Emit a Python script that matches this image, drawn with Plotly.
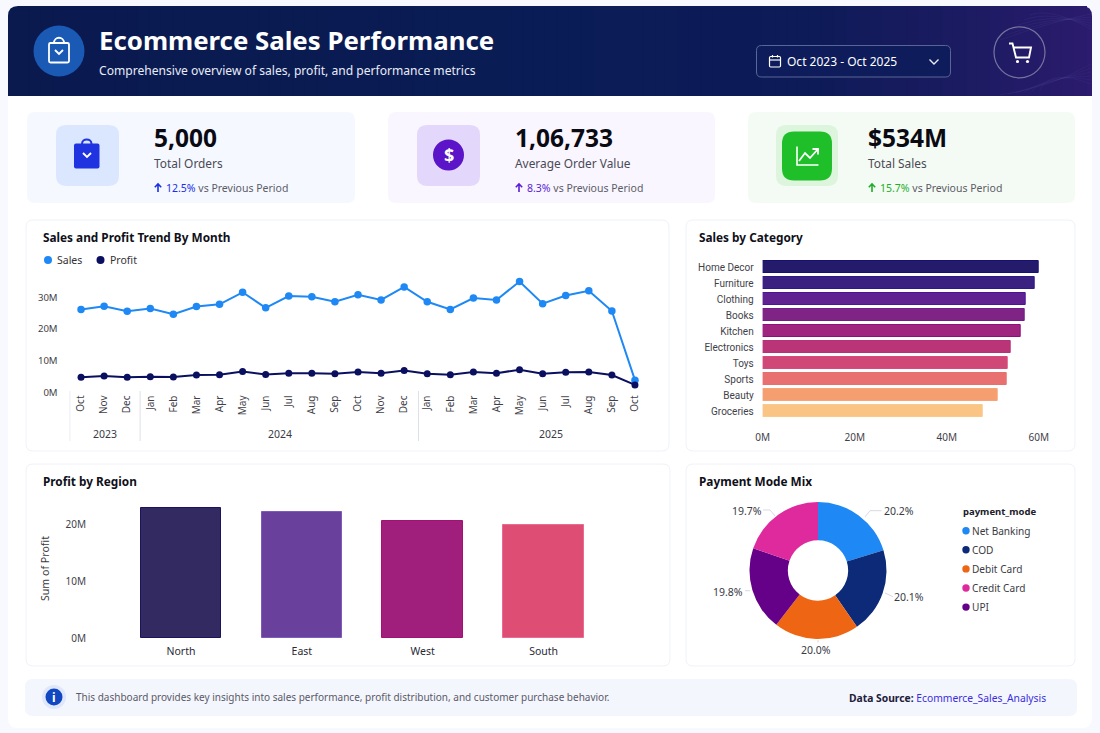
import re
import plotly.graph_objects as go

# ---- chart data -------------------------------------------------------
months = ["Oct", "Nov", "Dec", "Jan", "Feb", "Mar", "Apr", "May", "Jun", "Jul", "Aug", "Sep",
          "Oct", "Nov", "Dec", "Jan", "Feb", "Mar", "Apr", "May", "Jun", "Jul", "Aug", "Sep", "Oct"]
sales_m = [26.2, 27.2, 25.6, 26.5, 24.7, 27.1, 27.8, 31.6, 26.7, 30.4, 30.2, 28.6, 30.8,
           29.2, 33.3, 28.6, 26.2, 29.8, 29.2, 35.0, 28.0, 30.6, 32.1, 25.7, 3.9]
profit_m = [4.8, 5.2, 4.8, 5.0, 4.9, 5.5, 5.6, 6.6, 5.7, 6.1, 6.1, 5.9, 6.5,
            6.1, 6.9, 5.9, 5.6, 6.5, 6.1, 7.2, 5.9, 6.4, 6.5, 5.5, 2.4]
trend_ticks = [0, 10, 20, 30]
trend_tick_labels = ["0M", "10M", "20M", "30M"]
years = ["2023", "2024", "2025"]
year_dividers = [-0.49, 2.56, 14.62]

categories = ["Home Decor", "Furniture", "Clothing", "Books", "Kitchen",
              "Electronics", "Toys", "Sports", "Beauty", "Groceries"]
category_sales_m = [60.1, 59.2, 57.2, 57.0, 56.1, 53.9, 53.3, 53.0, 51.0, 47.8]
category_ticks = [0, 20, 40, 60]
category_tick_labels = ["0M", "20M", "40M", "60M"]
category_fill = ["#241c6b", "#3b2180", "#5f2290", "#7f2484", "#9e2480",
                 "#b93578", "#d04878", "#e87070", "#f59e70", "#fac484"]
category_edge = ["#15107a", "#2a1a8a", "#4a159a", "#721b8c", "#920c7c",
                 "#b82f7c", "#d84a7c", "#e8706c", "#f7a478", "#fbc98c"]

regions = ["North", "East", "West", "South"]
region_profit_m = [22.95, 22.15, 20.65, 19.9]
region_ticks = [0, 10, 20]
region_tick_labels = ["0M", "10M", "20M"]
region_fill = ["#332a62", "#69419c", "#a01f7c", "#de4d74"]
region_edge = ["#1a1460", "#7d5abc", "#a80f72", "#ea6a90"]

# clockwise from twelve o'clock
payment_modes = ["Net Banking", "COD", "Debit Card", "UPI", "Credit Card"]
payment_share = [20.2, 20.1, 20.0, 19.8, 19.7]
payment_fill = ["#1e88f5", "#0d2a78", "#ee6514", "#650088", "#df2a9e"]
legend_order = ["Net Banking", "COD", "Debit Card", "Credit Card", "UPI"]

kpis = [
    ("5,000", "Total Orders", "12.5%", "#1a2fe6"),
    ("1,06,733", "Average Order Value", "8.3%", "#5a1fd6"),
    ("$534M", "Total Sales", "15.7%", "#1fae2a"),
]

W, H = 1100, 733
FONT = "Noto Sans"
SALES_BLUE = "#1e88f5"
PROFIT_NAVY = "#0a0f60"


def px(x):
    return x / W


def py(y):
    return 1 - y / H


def to_paper(path):
    """Turn an 'M x y L x y ...' string in page pixels into paper fractions."""
    out, is_x = [], True
    for tok in path.split():
        if re.fullmatch(r"[A-Za-z]", tok):
            out.append(tok)
            is_x = True
        else:
            out.append(f"{px(float(tok)):.5f}" if is_x else f"{py(float(tok)):.5f}")
            is_x = not is_x
    return " ".join(out)


shapes = []
annotations = []


def path(d, fill=None, line=None, width=0, opacity=1):
    shapes.append(dict(type="path", path=to_paper(d), xref="paper", yref="paper", layer="below",
                       fillcolor=fill or "rgba(0,0,0,0)", opacity=opacity,
                       line=dict(color=line or "rgba(0,0,0,0)", width=width)))


def round_rect(x0, y0, x1, y1, r, fill=None, line=None, width=0, corners="tl tr br bl", opacity=1):
    tl = r if "tl" in corners else 0
    tr = r if "tr" in corners else 0
    br = r if "br" in corners else 0
    bl = r if "bl" in corners else 0
    d = (f"M {x0 + tl} {y0} L {x1 - tr} {y0} Q {x1} {y0} {x1} {y0 + tr} "
         f"L {x1} {y1 - br} Q {x1} {y1} {x1 - br} {y1} L {x0 + bl} {y1} "
         f"Q {x0} {y1} {x0} {y1 - bl} L {x0} {y0 + tl} Q {x0} {y0} {x0 + tl} {y0} Z")
    path(d, fill, line, width, opacity)


def circle(cx, cy, r, fill=None, line=None, width=0):
    shapes.append(dict(type="circle", xref="paper", yref="paper", layer="below",
                       x0=px(cx - r), x1=px(cx + r), y0=py(cy + r), y1=py(cy - r),
                       fillcolor=fill or "rgba(0,0,0,0)",
                       line=dict(color=line or "rgba(0,0,0,0)", width=width)))


def text(x, y, s, size=11, color="#333333", anchor="left", family=FONT, angle=0):
    # left-anchored annotations carry about a pixel of inner padding
    x_pos = x - 1 if anchor == "left" else x
    annotations.append(dict(x=px(x_pos), y=py(y), xref="paper", yref="paper", text=s, showarrow=False,
                            xanchor=anchor, yanchor="middle", textangle=angle, borderpad=0,
                            font=dict(size=size, color=color, family=family)))


def mix(c0, c1, t):
    a = [int(c0[i:i + 2], 16) for i in (1, 3, 5)]
    b = [int(c1[i:i + 2], 16) for i in (1, 3, 5)]
    return "#" + "".join(f"{round(p + (q - p) * t):02x}" for p, q in zip(a, b))


# ---- page, header band ------------------------------------------------
round_rect(8, 90, 1092, 728, 10, fill="#ffffff")

header_stops = [(8, "#0a1a4f"), (550, "#0a1c55"), (800, "#0d1b58"), (950, "#1a1b60"), (1092, "#2c1b6e")]


def header_color(x):
    for (x0, c0), (x1, c1) in zip(header_stops, header_stops[1:]):
        if x <= x1:
            return mix(c0, c1, (x - x0) / (x1 - x0))
    return header_stops[-1][1]


round_rect(8, 6, 40, 96, 10, fill=header_color(8), corners="tl")
round_rect(1060, 6, 1092, 96, 10, fill=header_color(1092), corners="tr")
for left in range(30, 1075, 12):
    path(f"M {left} 6 L {left + 13} 6 L {left + 13} 96 L {left} 96 Z", fill=header_color(left + 6))

# faint swirl lines in the band's right end
for i in range(6):
    path(f"M {1000 + i * 6} {40 - i * 5} Q {1050} {22 - i * 3} 1091 {14 + i * 3}",
         line="#6a63b8", width=0.7, opacity=0.16)
    path(f"M {1000 + i * 8} {95 - i} Q {1050} {88 - i * 4} 1091 {64 + i * 4}",
         line="#6a63b8", width=0.7, opacity=0.13)

circle(59, 51, 25.5, fill="#1a59b4")
round_rect(49, 43, 69, 62.5, 1.5, line="#ffffff", width=1.8)
path("M 54 43 C 54 36 64 36 64 43", line="#ffffff", width=1.8)
path("M 55 50 L 59 54 L 63 50", line="#ffffff", width=1.8)

text(98.5, 40, "<b>Ecommerce Sales Performance</b>", size=25.8, color="#ffffff")
text(98.5, 70.5, "Comprehensive overview of sales, profit, and performance metrics", size=12.1, color="#e8ecf8")

round_rect(756.5, 45.5, 950.5, 77, 5, fill="#0e1c5c", line="#5a6796", width=1)
round_rect(769.5, 56.5, 780.5, 67, 1.2, line="#ffffff", width=1.2)
path("M 769.5 60 L 780.5 60", line="#ffffff", width=1.2)
path("M 772.5 55 L 772.5 57.5 M 777.5 55 L 777.5 57.5", line="#ffffff", width=1.2)
text(787, 61.5, "Oct 2023 - Oct 2025", size=12, color="#ffffff")
path("M 929.5 59.5 L 934 64 L 938.5 59.5", line="#e8ecf8", width=1.4)

circle(1019.5, 52.3, 25.5, line="#77749f", width=1.2)
path("M 1009 43.5 L 1012.5 43.5 L 1016 57.5 L 1029 57.5 L 1031 47.5 L 1013.5 47.5", line="#ffffff", width=1.9)
circle(1017.5, 61.5, 1.6, fill="#ffffff")
circle(1027.5, 61.5, 1.6, fill="#ffffff")

# ---- KPI cards --------------------------------------------------------
round_rect(27, 112, 355, 203, 8, fill="#f5f8ff")
round_rect(388, 112, 715, 203, 8, fill="#f9f6ff")
round_rect(748, 112, 1075, 203, 8, fill="#f4fbf4")

round_rect(56, 125, 119, 186, 10, fill="#dbe7ff")
round_rect(74, 143.5, 99.5, 168.5, 2, fill="#1f33e0")
path("M 82 144 C 82 138 91.5 138 91.5 144", line="#1f33e0", width=2)
path("M 83 153 L 87 157 L 91 153", line="#ffffff", width=1.9)

round_rect(417, 125, 480, 186, 10, fill="#e3d7fb")
circle(448.5, 155, 15.5, fill="#5b14c8")
text(448.5, 155, "<b>$</b>", size=18, color="#ffffff", anchor="center")

round_rect(776, 125, 838, 186, 10, fill="#dcf5dc")
round_rect(782, 131.5, 832, 180.5, 12, fill="#1fbf2a")
path("M 797 146.5 L 797 165 L 818.5 165", line="#ffffff", width=1.6)
path("M 799 161 L 805 153 L 810 158 L 818 149", line="#ffffff", width=1.8)
path("M 812.5 149 L 818 149 L 818 154.5", line="#ffffff", width=1.8)

kpi_x = [154, 515, 868]
kpi_value_y = [137, 138, 138]
for (value, label, delta, colour), x, vy in zip(kpis, kpi_x, kpi_value_y):
    text(x, vy, f"<b>{value}</b>", size=24.5, color="#0a0a12")
    text(x, 163, label, size=11.9, color="#4a4a55")
    path(f"M {x + 4} 192 L {x + 4} 184 M {x + 0.8} 187.2 L {x + 4} 184 L {x + 7.2} 187.2", line=colour, width=1.6)
    text(x + 12, 188, f'<span style="color:{colour}">{delta}</span> vs Previous Period',
         size=10.5, color="#5c5c68")

# ---- chart cards ------------------------------------------------------
for x0, y0, x1, y1 in [(26, 220, 669, 451), (686, 220, 1075, 451),
                       (26, 464, 670, 666), (686, 464, 1075, 666)]:
    round_rect(x0, y0, x1, y1, 7, fill="#ffffff", line="#f0f2f9", width=1)

for x, y, title in [(43, 237, "Sales and Profit Trend By Month"), (699, 237, "Sales by Category"),
                    (43, 481, "Profit by Region"), (699, 481, "Payment Mode Mix")]:
    text(x, y, f"<b>{title}</b>", size=11.8, color="#10101a")

# legend of the trend chart
circle(48, 260, 4, fill=SALES_BLUE)
text(57, 260, "Sales", size=10.5, color="#333333")
circle(100.5, 260, 4, fill=PROFIT_NAVY)
text(110, 260, "Profit", size=10.5, color="#333333")

# legend of the payment donut
text(962.5, 511.5, "<b>payment_mode</b>", size=9.5, color="#20202a")
for i, name in enumerate(legend_order):
    y = 530.7 + i * 19.1
    circle(966, y, 3.7, fill=payment_fill[payment_modes.index(name)])
    text(972, y, name, size=10.1, color="#3a3a44")

# ---- footer -----------------------------------------------------------
round_rect(25, 679, 1077, 716, 8, fill="#f4f6fe")
circle(54, 697, 12, fill="#dfe7fb")
circle(54, 697, 8.5, fill="#1147c0")
text(54, 697, "<b>i</b>", size=12, color="#ffffff", anchor="center")
text(76, 697, "This dashboard provides key insights into sales performance, profit distribution, "
              "and customer purchase behavior.", size=10, color="#5a5a66")
text(849, 697.5, '<b>Data Source:</b> <span style="color:#3a2de0">Ecommerce_Sales_Analysis</span>',
     size=10.3, color="#20203a")

# ---- figure and traces ------------------------------------------------
fig = go.Figure()
index = list(range(len(months)))
fig.add_trace(go.Scatter(x=index, y=sales_m, mode="lines+markers", name="Sales", cliponaxis=False,
                         line=dict(color=SALES_BLUE, width=2), marker=dict(color=SALES_BLUE, size=7.5),
                         xaxis="x", yaxis="y"))
fig.add_trace(go.Scatter(x=index, y=profit_m, mode="lines+markers", name="Profit", cliponaxis=False,
                         line=dict(color=PROFIT_NAVY, width=2), marker=dict(color=PROFIT_NAVY, size=7),
                         xaxis="x", yaxis="y"))
fig.add_trace(go.Bar(x=category_sales_m, y=categories, orientation="h", width=0.74,
                     marker=dict(color=category_fill, line=dict(color=category_edge, width=1)),
                     xaxis="x2", yaxis="y2"))
fig.add_trace(go.Bar(x=regions, y=region_profit_m, width=0.667,
                     marker=dict(color=region_fill, line=dict(color=region_edge, width=1)),
                     xaxis="x3", yaxis="y3"))
fig.add_trace(go.Pie(labels=payment_modes, values=payment_share, hole=0.44, sort=False,
                     direction="clockwise", rotation=0, textinfo="none",
                     marker=dict(colors=payment_fill, line=dict(width=0)),
                     domain=dict(x=[px(749.5), px(886.5)], y=[py(639), py(502)])))

# year dividers and labels sit on the month axis
for divider in year_dividers:
    shapes.append(dict(type="line", xref="x", yref="paper", layer="below", x0=divider, x1=divider,
                       y0=py(441), y1=py(391), line=dict(color="#dfe1ea", width=1)))
year_label_x = [105, 280, 551]
for x, year in zip(year_label_x, years):
    text(x, 434, year, size=10.5, color="#3a3a44", anchor="center")

# donut labels with their leader lines, placed around the ring
label_spots = [(899, 511), (909, 597), (816, 650), (727.5, 592), (746.5, 511)]
leaders = ["M 865 517 L 870 510.7 L 881.5 510.7", "M 885 593 L 893 596.7", "M 818 640 L 818 642.5",
           "M 745 590.7 L 750 590.7", "M 763 510 L 770 510 L 775 516"]
for share, (x, y), lead in zip(payment_share, label_spots, leaders):
    path(lead, line="#d8d9e2", width=1)
    text(x, y, f"{share:.1f}%", size=10.5, color="#3a3a44", anchor="center")

text(45, 569, "Sum of Profit", size=10.6, color="#3a3a44", anchor="center", angle=-90)

tick_font = dict(size=10, color="#3f3f4a", family=FONT)
fig.update_layout(
    width=W, height=H, margin=dict(l=0, r=0, t=0, b=0, autoexpand=False), showlegend=False,
    paper_bgcolor="#f8f9fe", plot_bgcolor="rgba(0,0,0,0)",
    font=dict(family=FONT), shapes=shapes, annotations=annotations, bargap=0,
    xaxis=dict(domain=[px(69.5), px(646.5)], range=[-0.5, 24.5], tickmode="array", tickvals=index,
               ticktext=months, tickangle=-90, tickfont=tick_font, showgrid=False, zeroline=False,
               showline=False, ticks="", anchor="y"),
    yaxis=dict(domain=[py(392.5), py(272)], range=[0, 38], tickmode="array", tickvals=trend_ticks,
               ticktext=trend_tick_labels, tickfont=dict(size=9.6, color="#3f3f4a", family=FONT),
               showgrid=False, zeroline=False, showline=False, ticks="outside", ticklen=9,
               tickcolor="rgba(0,0,0,0)", anchor="x"),
    xaxis2=dict(domain=[px(762.7), px(1060)], range=[0, (1060 - 762.7) / 4.6], tickmode="array",
                tickvals=category_ticks, ticktext=category_tick_labels, tickfont=tick_font,
                showgrid=False, zeroline=False, showline=False, ticks="outside", ticklen=9,
                tickcolor="rgba(0,0,0,0)", anchor="y2"),
    yaxis2=dict(domain=[py(419), py(259)], autorange="reversed",
                tickfont=dict(size=10, color="#3f3f4a", family="Roboto"), showgrid=False,
                zeroline=False, showline=False, ticks="outside", ticklen=6,
                tickcolor="rgba(0,0,0,0)", anchor="x2"),
    xaxis3=dict(domain=[px(93), px(604)], range=[-0.728, 3.5],
                tickfont=dict(size=10.5, color="#2a2a34", family=FONT), showgrid=False,
                zeroline=False, showline=False, ticks="outside", ticklen=3,
                tickcolor="rgba(0,0,0,0)", anchor="y3"),
    yaxis3=dict(domain=[py(638.3), py(500)], range=[0, (638.3 - 500) / 5.68], tickmode="array",
                tickvals=region_ticks, ticktext=region_tick_labels, tickfont=tick_font, showgrid=False,
                zeroline=False, showline=False, ticks="outside", ticklen=4,
                tickcolor="rgba(0,0,0,0)", anchor="x3"),
)

fig.write_html("out.html")
